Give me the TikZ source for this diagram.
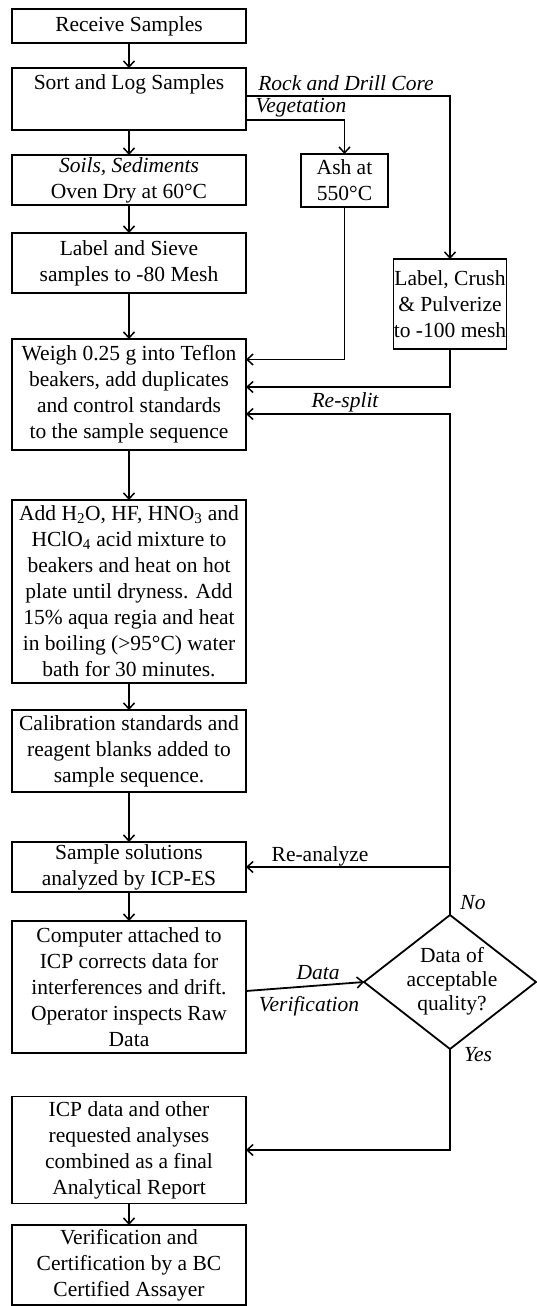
\documentclass[tikz,border=0pt]{standalone}
\usepackage{fontspec}
\setmainfont{Liberation Serif}
\usetikzlibrary{arrows.meta,shapes.geometric}
\begin{document}
\begin{tikzpicture}[x=1pt,y=-1pt,
  box/.style={draw, line width=1.8pt, align=center, inner sep=0pt, outer sep=0pt,
    font=\fontsize{21.5}{26}\selectfont, minimum width=234pt},
  arr/.style={line width=1.8pt, -{Straight Barb[length=6pt,width=11pt,line width=1.5pt]}},
  lbl/.style={inner sep=0pt, font=\fontsize{21.5}{26}\selectfont\itshape},
  ulbl/.style={inner sep=0pt, font=\fontsize{21.5}{26}\selectfont},
  ]
\useasboundingbox (0,0) rectangle (537,1306);

% boxes
\node[box, minimum height=34pt] (recv) at (129,26) {Receive Samples};
\node[box, minimum height=62pt] (sort) at (129,99) {Sort and Log Samples\\\strut};
\node[box, minimum height=50pt] (soil) at (129,180) {\textit{Soils, Sediments}\\Oven Dry at 60°C};
\node[box, minimum width=87pt, minimum height=53pt] (ash) at (344.5,180.5) {Ash at\\550°C};
\node[box, minimum height=60pt] (sieve) at (129,263) {Label and Sieve\\samples to -80 Mesh};
\node[box, minimum width=113pt, minimum height=90pt] (crush) at (450,304) {Label, Crush\\\& Pulverize\\to -100 mesh};
\node[box, minimum height=111pt] (weigh) at (129,394.5) {Weigh 0.25 g into Teflon\\beakers, add duplicates\\and control standards\\to the sample sequence};
\node[box, minimum height=183pt] (acid) at (129,591.5) {Add H\textsubscript{2}O, HF, HNO\textsubscript{3} and\\HClO\textsubscript{4} acid mixture to\\beakers and heat on hot\\plate until dryness. Add\\15\% aqua regia and heat\\in boiling (>95°C) water\\bath for 30 minutes.};
\node[box, minimum height=82pt] (calib) at (129,751) {Calibration standards and\\reagent blanks added to\\sample sequence.};
\node[box, minimum height=50pt] (samp) at (129,867) {Sample solutions\\analyzed by ICP-ES};
\node[box, minimum height=132pt] (comp) at (129,987) {Computer attached to\\ICP corrects data for\\interferences and drift.\\Operator inspects Raw\\Data};
\node[draw, diamond, line width=1.8pt, minimum width=172pt, minimum height=134pt, inner sep=0pt, outer sep=0pt] (dq) at (450,982) {};
\node[inner sep=0pt, align=center, font=\fontsize{21.5}{24}\selectfont] (dqt) at (452,981) {Data of\\acceptable\\quality?};
\node[box, minimum height=107pt] (icp) at (129,1150) {ICP data and other\\requested analyses\\combined as a final\\Analytical Report};
\node[box, minimum height=80pt] (verif) at (129,1265) {Verification and\\Certification by a BC\\Certified Assayer};

% labels
\node[lbl] (lrock) at (346,83) {Rock and Drill Core};
\node[lbl] (lveg) at (301,108) {Vegetation};
\node[lbl] (lresplit) at (345,402) {Re-split};
\node[ulbl] (lreana) at (320,856) {Re-analyze};
\node[lbl] (lno) at (473,903) {No};
\node[lbl] (ldata) at (318,973) {Data};
\node[lbl] (lverif) at (309,1006) {Verification};
\node[lbl] (lyes) at (478,1055) {Yes};

% connectors
\draw[arr] (recv) -- (sort);
\draw[arr] (sort) -- (soil);
\draw[arr] ([yshift=3pt]sort.east) -| (crush.north);
\draw[arr] ([yshift=-21pt]sort.east) -| (ash.north);
\draw[arr] (soil) -- (sieve);
\draw[arr] (sieve) -- (weigh);
\draw[arr] (ash.south) |- ([yshift=35pt]weigh.east);
\draw[arr] (crush.south) |- ([yshift=7.5pt]weigh.east);
\draw[arr] (dq.north) |- ([yshift=-19.5pt]weigh.east);
\draw[arr] (weigh) -- (acid);
\draw[arr] (acid) -- (calib);
\draw[arr] (calib) -- (samp);
\draw[arr] (dq.north |- samp.east) -- (samp.east);
\draw[arr] (samp) -- (comp);
\draw[arr] ([yshift=-4pt]comp.east) -- (dq.west);
\draw[arr] (dq.south) |- (icp.east);
\draw[arr] (icp) -- (verif);
\end{tikzpicture}
\end{document}
